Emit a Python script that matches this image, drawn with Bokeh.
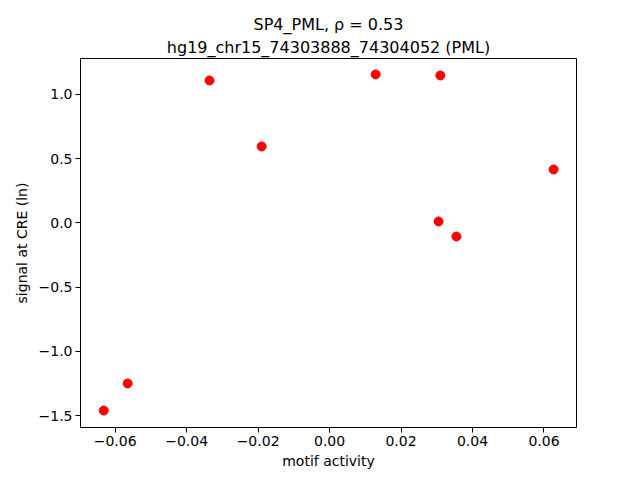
from bokeh.plotting import figure
from bokeh.models import FixedTicker, Title, Range1d
from bokeh.embed import file_html
from bokeh.resources import INLINE

motif_activity = [-0.0632, -0.0565, -0.0336, -0.0190, 0.0129, 0.0310, 0.0305, 0.0355, 0.0627]
signal = [-1.461, -1.250, 1.109, 0.595, 1.156, 1.148, 0.011, -0.106, 0.416]

x_ticks = [-0.06, -0.04, -0.02, 0.00, 0.02, 0.04, 0.06]
y_ticks = [-1.5, -1.0, -0.5, 0.0, 0.5, 1.0]

title_line1 = "SP4_PML, \u03c1 = 0.53"
title_line2 = "hg19_chr15_74303888_74304052 (PML)"

FONT = "DejaVu Sans"

p = figure(width=632, height=472, output_backend="svg", toolbar_location=None,
           x_range=Range1d(-0.0697, 0.0691), y_range=Range1d(-1.593, 1.280),
           min_border_left=80, min_border_right=56, min_border_top=58, min_border_bottom=45)
p.title.visible = False

t2 = Title(text=title_line2, align="center", text_font=FONT, text_font_size="16px",
           text_font_style="normal", text_color="black", standoff=4, offset=0)
t1 = Title(text=title_line1, align="center", text_font=FONT, text_font_size="16px",
           text_font_style="normal", text_color="black", standoff=0, offset=0)
p.add_layout(t2, "above")
p.add_layout(t1, "above")

p.scatter(motif_activity, signal, size=9, color="#ff0000", line_color="#ff0000")

p.xgrid.visible = False
p.ygrid.visible = False
p.outline_line_color = "black"
p.outline_line_width = 1

p.xaxis.ticker = FixedTicker(ticks=x_ticks)
p.yaxis.ticker = FixedTicker(ticks=y_ticks)
p.xaxis.major_label_overrides = {t: ("%.2f" % t).replace("-", "\u2212") for t in x_ticks}
p.yaxis.major_label_overrides = {t: ("%.1f" % t).replace("-", "\u2212") for t in y_ticks}
p.xaxis.axis_label = "motif activity"
p.yaxis.axis_label = "signal at CRE (ln)"

for ax in (p.xaxis[0], p.yaxis[0]):
    ax.axis_line_color = None
    ax.major_tick_line_color = "black"
    ax.major_tick_out = 5
    ax.major_tick_in = 0
    ax.minor_tick_line_color = None
    ax.major_label_text_font = FONT
    ax.major_label_text_font_size = "14px"
    ax.major_label_text_color = "black"
    ax.axis_label_text_font = FONT
    ax.axis_label_text_font_size = "14px"
    ax.axis_label_text_font_style = "normal"
    ax.axis_label_text_color = "black"
    ax.major_label_standoff = 3
    ax.axis_label_standoff = 4

p.yaxis.major_label_orientation = "horizontal"
p.yaxis[0].axis_label_standoff = 6

open("out.html", "w").write(file_html(p, INLINE))
